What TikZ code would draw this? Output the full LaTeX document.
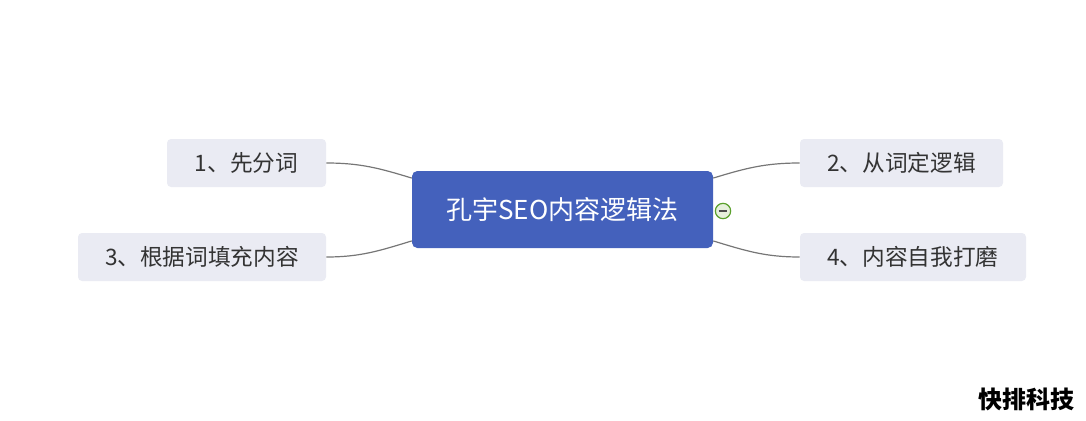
\documentclass[tikz,border=0pt]{standalone}
\usepackage{fontspec}
\setmainfont{Noto Sans CJK SC}
\usepackage{xcolor}
\definecolor{rootblue}{HTML}{4461BC}
\definecolor{topicgray}{HTML}{EAEBF3}
\definecolor{linegray}{HTML}{767676}
\definecolor{foldgreen}{HTML}{5AA02C}
\definecolor{foldfill}{HTML}{E6F0DC}
\tikzset{
	root/.style={
			fill=rootblue, text=white, rounded corners=4pt,
			minimum width=225.75pt, minimum height=57.75pt,
			font=\fontsize{19.5}{23}\selectfont
		},
	topic/.style={
			fill=topicgray, text=black!80, rounded corners=3pt,
			minimum height=36pt, font=\fontsize{17}{20}\selectfont
		},
	branch/.style={draw=linegray, line width=0.9pt}
}

\begin{document}
\begin{tikzpicture}[x=0.75pt,y=-0.75pt]
	\useasboundingbox (0,0) rectangle (1086,421);

	\node[root] (center) at (562.5,209.5) {孔宇SEO内容逻辑法};

	\node[topic, minimum width=119.25pt] (t1) at (246.5,163) {1、先分词};
	\node[topic, minimum width=152.25pt] (t2) at (901.5,163) {2、从词定逻辑};
	\node[topic, minimum width=186pt] (t3) at (202,257) {3、根据词填充内容};
	\node[topic, minimum width=169.5pt] (t4) at (913,257) {4、内容自我打磨};

	% fold marker
	\node[circle, draw=foldgreen, fill=foldfill, line width=0.9pt,
		minimum size=11.5pt, inner sep=0pt] (fold) at (723,211) {};
	\draw[black!70, line width=0.9pt] ([xshift=-3.2pt]fold.center) -- ([xshift=3.2pt]fold.center);

	\draw[branch] (t1.east) to[out=0,in=163] ([yshift=-5.5pt]center.north west);
	\draw[branch] (t3.east) to[out=0,in=197] ([yshift=5.5pt]center.south west);
	\draw[branch] (t2.west) to[out=180,in=17] ([yshift=-5.5pt]center.north east);
	\draw[branch] (t4.west) to[out=180,in=-17] ([yshift=5.5pt]center.south east);

	\node[font=\fontsize{18}{21}\selectfont\bfseries] (mark) at (1026,399) {快排科技};
\end{tikzpicture}
\end{document}
